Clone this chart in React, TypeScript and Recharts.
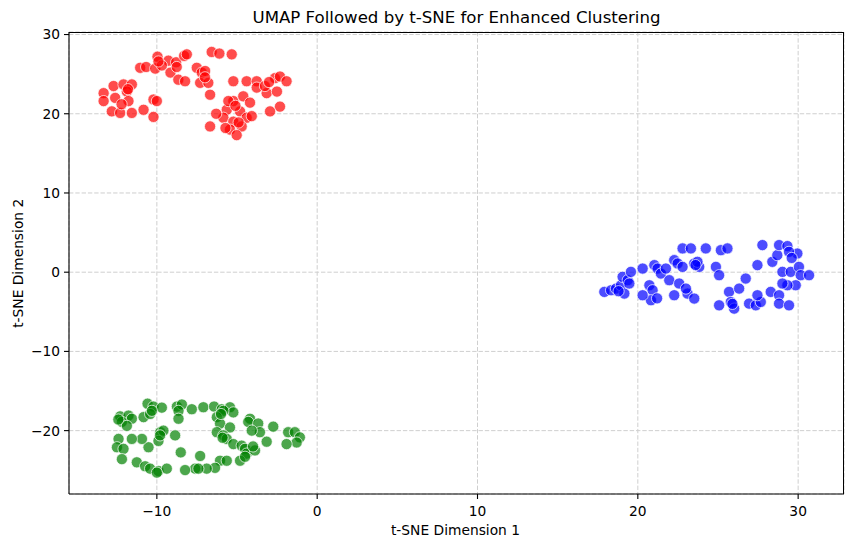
import { ScatterChart, Scatter, XAxis, YAxis, CartesianGrid } from 'recharts';

const X_TICKS = [-10, 0, 10, 20, 30];
const Y_TICKS = [-20, -10, 0, 10, 20, 30];
const X_DOMAIN = [-15.48, 32.86];
const Y_DOMAIN = [-28.0, 30.32];

const TITLE = 'UMAP Followed by t-SNE for Enhanced Clustering';
const X_LABEL = 't-SNE Dimension 1';
const Y_LABEL = 't-SNE Dimension 2';

// cluster 0 (red)
const redPoints = [
  [-6.58, 27.8], [-6.1, 27.6], [-5.33, 27.5], [-9.96, 27.2], [-9.28, 26.7], [-8.8, 26.5],
  [-8.3, 27.3], [-8.13, 27.5], [-11.04, 25.8], [-10.67, 25.9], [-10.1, 25.7], [-9.69, 26.1],
  [-9.15, 25.2], [-8.76, 25.9], [-8.66, 24.3], [-8.24, 24.1], [-7.51, 25.8], [-7.2, 25.2],
  [-6.99, 25.4], [-7.3, 23.9], [-6.79, 23.9], [-6.68, 22.4], [-13.32, 22.6], [-12.7, 23.5],
  [-12.08, 23.7], [-11.56, 23.7], [-11.87, 22.8], [-11.77, 21.6], [-13.32, 21.6], [-12.6, 22.0],
  [-12.81, 20.3], [-12.29, 20.1], [-11.56, 20.1], [-10.83, 20.5], [-10.21, 21.8], [-10.0, 21.6],
  [-10.21, 19.6], [-5.23, 24.1], [-4.4, 24.1], [-3.77, 24.1], [-3.77, 23.3], [-3.15, 22.6],
  [-3.26, 23.5], [-2.63, 24.5], [-2.32, 24.7], [-1.91, 24.1], [-2.51, 22.8], [-2.32, 20.9],
  [-2.94, 20.3], [-5.23, 21.6], [-4.61, 22.2], [-4.19, 21.4], [-5.64, 20.5], [-4.81, 20.3],
  [-4.4, 19.5], [-4.08, 19.7], [-5.85, 19.5], [-5.23, 19.0], [-4.71, 18.4], [-5.44, 18.0],
  [-5.02, 17.3], [-5.72, 18.2], [-6.68, 18.4], [-5.54, 21.6], [-5.1, 21.0], [-12.2, 21.2],
  [-11.8, 23.1], [-9.9, 26.6], [-4.9, 18.9], [-7.0, 24.6], [-3.0, 24.0], [-6.3, 20.0],
];

// cluster 1 (green)
const greenPoints = [
  [-10.58, -16.6], [-10.21, -16.96], [-9.69, -17.1], [-8.75, -16.96], [-8.44, -16.7], [-8.65, -17.5],
  [-7.82, -17.3], [-7.1, -17.05], [-6.43, -16.96], [-5.95, -17.3], [-5.44, -17.05], [-5.23, -17.7],
  [-5.85, -17.5], [-12.29, -18.2], [-11.77, -18.1], [-11.56, -18.5], [-12.18, -18.9], [-11.87, -19.4],
  [-10.83, -18.3], [-10.42, -17.9], [-10.31, -17.5], [-8.65, -18.5], [-6.26, -18.3], [-6.06, -19.1],
  [-5.44, -19.6], [-4.19, -18.5], [-4.3, -18.9], [-3.68, -19.1], [-2.74, -19.5], [-6.26, -20.2],
  [-5.85, -20.6], [-5.64, -21.05], [-5.23, -21.7], [-4.71, -21.9], [-4.5, -22.3], [-4.4, -22.9],
  [-3.88, -22.5], [-4.81, -23.8], [-6.06, -23.8], [-5.64, -23.8], [-6.37, -24.7], [-6.89, -24.8],
  [-7.61, -24.8], [-7.41, -24.8], [-8.24, -24.98], [-8.86, -20.6], [-9.79, -20.2], [-9.9, -21.3],
  [-9.59, -20.0], [-10.52, -22.1], [-10.93, -21.05], [-11.56, -21.05], [-12.39, -21.05], [-12.49, -22.1],
  [-12.08, -22.3], [-12.18, -23.6], [-11.25, -24.0], [-10.73, -24.5], [-10.42, -24.8], [-9.9, -25.1],
  [-9.38, -24.8], [-10.0, -25.3], [-8.51, -22.75], [-7.3, -23.2], [-3.57, -20.2], [-3.15, -21.4],
  [-1.81, -20.2], [-1.39, -20.2], [-1.08, -20.85], [-1.28, -21.5], [-1.91, -21.7], [-4.08, -20.0],
  [-9.8, -20.6], [-5.9, -20.9], [-4.5, -23.3], [-12.4, -18.6], [-6.0, -17.9], [-4.0, -22.0],
];

// cluster 2 (blue)
const bluePoints = [
  [17.91, -2.49], [18.33, -2.28], [18.64, -2.07], [18.95, -1.65], [19.05, -0.59], [19.37, -1.01],
  [19.57, 0.04], [19.16, -2.7], [19.47, -1.43], [20.3, 0.46], [21.03, 0.89], [21.23, 0.46],
  [21.44, -0.17], [21.75, 0.46], [21.96, -1.01], [20.72, -1.65], [20.92, -2.28], [20.82, -3.54],
  [20.3, -2.91], [22.27, 1.52], [22.48, 1.1], [22.79, 0.67], [22.58, -1.43], [22.27, -2.91],
  [23.1, -2.7], [23.52, -3.33], [23.0, -2.07], [22.79, 3.0], [23.31, 3.0], [23.52, 1.1],
  [23.83, 0.67], [23.72, 1.31], [24.24, 3.0], [25.18, 2.78], [25.59, 3.0], [24.87, 0.67],
  [25.07, -0.38], [25.69, -2.49], [26.32, -2.07], [26.73, -0.8], [25.07, -4.18], [25.8, -3.76],
  [26.01, -4.6], [26.94, -3.97], [27.36, -4.18], [27.67, -3.76], [27.46, -2.91], [28.29, -2.49],
  [28.81, -2.91], [28.81, -3.97], [29.43, -4.18], [27.77, 3.42], [27.46, 0.89], [28.39, 1.31],
  [28.7, 2.15], [28.81, 3.42], [29.33, 3.29], [29.95, 2.36], [29.43, 2.57], [29.02, 0.04],
  [29.54, 0.04], [30.05, 0.67], [30.16, -0.38], [30.68, -0.38], [29.85, -1.65], [29.33, -1.65],
  [29.02, -1.43], [21.2, -3.3], [23.6, 0.9], [18.8, -2.4], [29.6, 1.8], [25.9, -4.0],
];

const toRows = (pts: number[][]) => pts.map(([x, y]) => ({ x, y }));

const FONT = 'DejaVu Sans, sans-serif';
const minus = (v: number) => String(v).replace('-', '\u2212');

const dot = (color: string) => (props: any) => (
  <circle
    cx={props.cx}
    cy={props.cy}
    r={5.6}
    fill={color}
    fillOpacity={0.7}
    stroke="#ffffff"
    strokeOpacity={0.7}
    strokeWidth={1}
  />
);

const spine = { stroke: '#000', strokeWidth: 1.1 };
// plot box in page pixels, shared by the chart margins and the frame
const PLOT = { left: 69, top: 32, right: 844, bottom: 494 };

export default function App() {
  const tick = { fill: '#000', fontSize: 13.8, fontFamily: FONT };
  return (
    <div style={{ position: 'absolute', left: 0, top: 0, width: 853, height: 547, background: '#fff' }}>
      <ScatterChart
        width={853}
        height={547}
        margin={{ top: PLOT.top, right: 853 - PLOT.right, bottom: 547 - PLOT.bottom - 30, left: 0 }}
      >
        <CartesianGrid stroke="#cfcfcf" strokeWidth={1} strokeDasharray="4.4 1.9" />
        <XAxis
          type="number"
          dataKey="x"
          domain={X_DOMAIN}
          ticks={X_TICKS}
          allowDataOverflow
          height={30}
          tickSize={5}
          tickMargin={7}
          tick={tick}
          tickFormatter={minus}
          axisLine={spine}
          tickLine={spine}
        />
        <YAxis
          type="number"
          dataKey="y"
          domain={Y_DOMAIN}
          ticks={Y_TICKS}
          allowDataOverflow
          width={PLOT.left}
          tickSize={5}
          tickMargin={4}
          tick={tick}
          tickFormatter={minus}
          axisLine={spine}
          tickLine={spine}
        />
        <Scatter data={toRows(redPoints)} shape={dot('#ff0000')} isAnimationActive={false} />
        <Scatter data={toRows(greenPoints)} shape={dot('#008000')} isAnimationActive={false} />
        <Scatter data={toRows(bluePoints)} shape={dot('#0000ff')} isAnimationActive={false} />
      </ScatterChart>
      {/* frame around the axes, as a bordered box */}
      <div
        style={{
          position: 'absolute',
          left: PLOT.left,
          top: PLOT.top,
          width: PLOT.right - PLOT.left,
          height: PLOT.bottom - PLOT.top,
          borderTop: '1px solid #000',
          borderRight: '1px solid #000',
          boxSizing: 'border-box',
          pointerEvents: 'none',
        }}
      />
      <svg
        width={853}
        height={547}
        style={{ position: 'absolute', left: 0, top: 0, pointerEvents: 'none' }}
      >
        <text x={456.5} y={22.7} textAnchor="middle" fontSize={16.6} fontFamily={FONT} fill="#000">
          {TITLE}
        </text>
        <text x={455.5} y={534.7} textAnchor="middle" fontSize={13.8} fontFamily={FONT} fill="#000">
          {X_LABEL}
        </text>
        <text
          x={22.7}
          y={263.3}
          textAnchor="middle"
          fontSize={13.8}
          fontFamily={FONT}
          fill="#000"
          transform="rotate(-90 22.7 263.3)"
        >
          {Y_LABEL}
        </text>
      </svg>
    </div>
  );
}
